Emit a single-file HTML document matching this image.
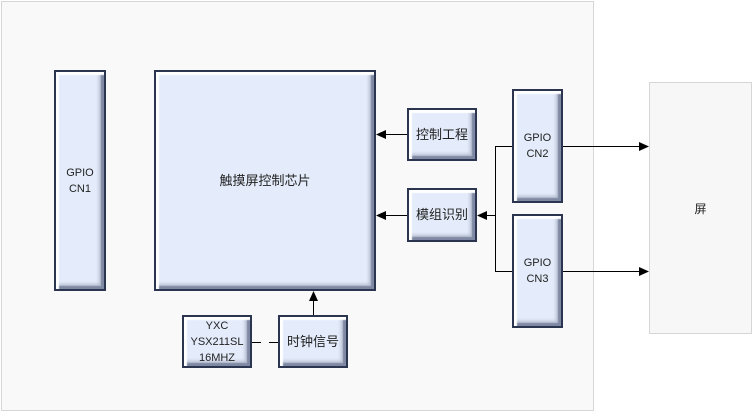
<!DOCTYPE html>
<html><head><meta charset="utf-8"><style>
*{margin:0;padding:0;box-sizing:border-box}
body{width:752px;height:411px;background:#fff;position:relative;overflow:hidden;font-family:"Liberation Sans","Noto Sans CJK SC",sans-serif;color:#222}
.outer{position:absolute;left:1px;top:1px;width:593px;height:410px;border:1px solid #d6d6d6;background:#f9f9f9}
.scr{position:absolute;left:649px;top:82px;width:103px;height:252px;border:1px solid #d6d6d6;background:#f7f7f7;display:flex;align-items:center;justify-content:center;font-size:12px}
.b{position:absolute;border:2px solid #2c3550;background:#e4ecfb;box-shadow:inset 3px 3px 1px #ffffff,inset -3px -3px 1px #7f89a3,inset -5px -5px 3px #b4bccf;display:flex;align-items:center;justify-content:center;text-align:center;font-size:13px;line-height:16px}
.g{font-size:11px;line-height:16px}
svg{position:absolute;left:0;top:0}
</style></head><body>
<div class="outer"></div>
<div class="scr">屏</div>
<div class="b g" style="left:54px;top:70px;width:52px;height:221px">GPIO<br>CN1</div>
<div class="b" style="left:154px;top:70px;width:222px;height:221px">触摸屏控制芯片</div>
<div class="b" style="left:407px;top:108px;width:70px;height:53px">控制工程</div>
<div class="b" style="left:407px;top:188px;width:70px;height:54px">模组识别</div>
<div class="b g" style="left:512px;top:89px;width:51px;height:114px">GPIO<br>CN2</div>
<div class="b g" style="left:512px;top:214px;width:51px;height:114px">GPIO<br>CN3</div>
<div class="b g" style="left:182px;top:315px;width:70px;height:53px">YXC<br>YSX211SL<br>16MHZ</div>
<div class="b" style="left:278px;top:315px;width:70px;height:53px">时钟信号</div>
<svg width="752" height="411" viewBox="0 0 752 411">
<g stroke="#000" stroke-width="1" fill="none">
<line x1="407" y1="134.5" x2="384" y2="134.5"/>
<line x1="407" y1="215.5" x2="384" y2="215.5"/>
<line x1="495.5" y1="215.5" x2="485" y2="215.5"/>
<polyline points="512,146.5 495.5,146.5 495.5,271.5 512,271.5"/>
<line x1="563" y1="146.5" x2="640" y2="146.5"/>
<line x1="563" y1="271.5" x2="640" y2="271.5"/>
<line x1="313.5" y1="315" x2="313.5" y2="299"/>
<line x1="252" y1="342.5" x2="278" y2="342.5" stroke-dasharray="9,8"/>
</g>
<g fill="#000">
<polygon points="376,134.5 386,130 386,139"/>
<polygon points="376,215.5 386,211 386,220"/>
<polygon points="477,215.5 487,211 487,220"/>
<polygon points="649,146.5 639,142 639,151"/>
<polygon points="649,271.5 639,267 639,276"/>
<polygon points="313.5,291 309,301 318,301"/>
</g>
</svg>
</body></html>
